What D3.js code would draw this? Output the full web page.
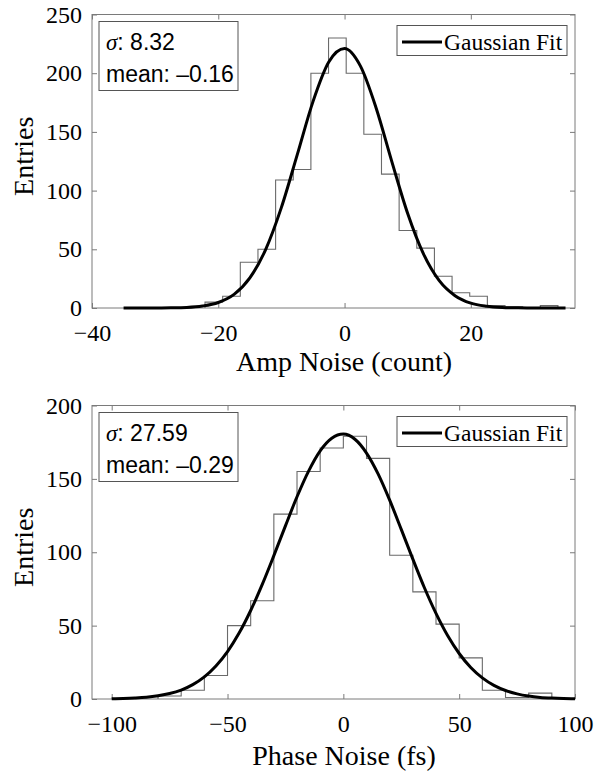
<!DOCTYPE html>
<html>
<head>
<meta charset="utf-8">
<script src="https://cdn.jsdelivr.net/npm/d3@7"></script>
<style>
  body { margin: 0; background: #fff; }
</style>
</head>
<body>
<div id="chart"></div>
<script>
// ---- Amp noise panel ----
const ampBinStart = -22.1;
const ampBinWidth = 2.795;
const ampCounts = [5, 10, 39, 50, 109, 118, 200, 230, 200, 148, 114, 66, 51, 27, 13, 10, 2, 1, 0, 2];
const ampFitX = [-35, -30, -27.5, -25, -22.5, -20, -17.5, -15, -12.5, -10, -7.5, -5, -2.5, 0,
  2.5, 5, 7.5, 10, 12.5, 15, 17.5, 20, 22.5, 25, 27.5, 30, 35];
const ampFitY = [0, 0.04, 0.15, 0.5, 1.7, 4.7, 11.6, 25.6, 49.8, 85.7, 130.4, 175.8, 209.5, 221,
  206.2, 170.4, 124.5, 80.5, 46.1, 23.3, 10.5, 4.1, 1.5, 0.45, 0.12, 0.03, 0];
const ampXDomain = [-40, 36.5];
const ampYDomain = [0, 250];
const ampXTicks = [-40, -20, 0, 20];
const ampYTicks = [0, 50, 100, 150, 200, 250];
const ampSigma = "8.32";
const ampMean = "–0.16";

// ---- Phase noise panel ----
const phaseBinStart = -80;
const phaseBinWidth = 10;
const phaseCounts = [2, 6, 16, 50, 67, 126, 155, 171, 179, 164, 98, 73, 51, 28, 6, 1, 4];
const phaseFitX = [-100, -95, -90, -85, -80, -75, -70, -65, -60, -55, -50, -45, -40, -35, -30, -25,
  -20, -15, -10, -5, 0, 5, 10, 15, 20, 25, 30, 35, 40, 45, 50, 55, 60, 65, 70, 75, 80, 85, 90, 95, 100];
const phaseFitY = [0.18, 0.35, 0.67, 1.2, 2.2, 3.7, 6.1, 9.8, 15.1, 22.5, 32.3, 44.9, 60.3, 78.1,
  97.7, 118.0, 137.8, 155.3, 169.1, 177.7, 180.5, 177.0, 167.6, 153.4, 135.5, 115.6, 95.3, 75.8,
  58.3, 43.2, 31.0, 21.5, 14.4, 9.3, 5.8, 3.5, 2.0, 1.1, 0.6, 0.3, 0.16];
const phaseXDomain = [-108.5, 100];
const phaseYDomain = [0, 200];
const phaseXTicks = [-100, -50, 0, 50, 100];
const phaseYTicks = [0, 50, 100, 150, 200];
const phaseSigma = "27.59";
const phaseMean = "–0.29";

const width = 598;
const height = 771;
const serif = "'Liberation Serif', 'Times New Roman', serif";
const sans = "'Liberation Sans', Arial, sans-serif";
const axisGray = "#7a7a7a";

const svg = d3.select("#chart")
  .append("svg")
  .attr("width", width)
  .attr("height", height);

const fmt = d => (d < 0 ? "\u2212" + Math.abs(d) : String(d));

function drawPanel(p) {
  const left = 92, right = 575;
  const x = d3.scaleLinear().domain(p.xDomain).range([left, right]);
  const y = d3.scaleLinear().domain(p.yDomain).range([p.bottom, p.top]);

  const g = svg.append("g");

  // inward ticks on all four sides
  g.append("g")
    .attr("transform", `translate(0,${p.bottom})`)
    .call(d3.axisBottom(x).tickValues(p.xTicks).tickSizeInner(-5).tickSizeOuter(0)
      .tickPadding(16).tickFormat(fmt));
  g.append("g")
    .attr("transform", `translate(${left},0)`)
    .call(d3.axisLeft(y).tickValues(p.yTicks).tickSizeInner(-5).tickSizeOuter(0)
      .tickPadding(10).tickFormat(fmt));
  g.append("g")
    .attr("transform", `translate(0,${p.top})`)
    .call(d3.axisTop(x).tickValues(p.xTicks).tickSizeInner(-5).tickSizeOuter(0).tickFormat(""));
  g.append("g")
    .attr("transform", `translate(${right},0)`)
    .call(d3.axisRight(y).tickValues(p.yTicks).tickSizeInner(-5).tickSizeOuter(0).tickFormat(""));

  g.selectAll(".domain").remove();
  g.selectAll(".tick line").attr("stroke", axisGray);
  g.selectAll(".tick text")
    .attr("fill", "#000")
    .style("font-family", serif)
    .style("font-size", "24px");

  // axes box
  g.append("rect")
    .attr("x", left)
    .attr("y", p.top)
    .attr("width", right - left)
    .attr("height", p.bottom - p.top)
    .attr("fill", "none")
    .attr("stroke", axisGray)
    .attr("stroke-width", 1);

  // histogram as stairs outline
  const pts = [[p.binStart, 0]];
  p.counts.forEach((c, i) => {
    const e0 = p.binStart + i * p.binWidth;
    pts.push([e0, c], [e0 + p.binWidth, c]);
  });
  pts.push([p.binStart + p.counts.length * p.binWidth, 0]);

  g.append("path")
    .datum(pts)
    .attr("fill", "none")
    .attr("stroke", "#6a6a6a")
    .attr("stroke-width", 1.1)
    .attr("d", d3.line().x(d => x(d[0])).y(d => y(d[1])));

  // gaussian fit
  const fit = p.fitX.map((v, i) => [v, p.fitY[i]]);
  g.append("path")
    .datum(fit)
    .attr("fill", "none")
    .attr("stroke", "#000")
    .attr("stroke-width", 3)
    .attr("stroke-linejoin", "round")
    .attr("d", d3.line().curve(d3.curveMonotoneX).x(d => x(d[0])).y(d => y(d[1])));

  // stats box
  const sb = g.append("g").attr("transform", `translate(99,${p.top + 7})`);
  sb.append("rect")
    .attr("width", 139)
    .attr("height", 69)
    .attr("fill", "#fff")
    .attr("stroke", "#555")
    .attr("stroke-width", 1);
  const t1 = sb.append("text")
    .attr("x", 7)
    .attr("y", 28)
    .style("font-family", sans)
    .style("font-size", "23px");
  t1.append("tspan").style("font-family", serif).style("font-style", "italic").text("σ");
  t1.append("tspan").text(": " + p.sigma);
  sb.append("text")
    .attr("x", 7)
    .attr("y", 60)
    .style("font-family", sans)
    .style("font-size", "23px")
    .text("mean: " + p.mean);

  // legend
  const lg = g.append("g").attr("transform", `translate(397,${p.top + 11})`);
  lg.append("rect")
    .attr("width", 170)
    .attr("height", 30)
    .attr("fill", "#fff")
    .attr("stroke", "#555")
    .attr("stroke-width", 1);
  lg.append("line")
    .attr("x1", 5)
    .attr("x2", 45)
    .attr("y1", 16.5)
    .attr("y2", 16.5)
    .attr("stroke", "#000")
    .attr("stroke-width", 3);
  lg.append("text")
    .attr("x", 47)
    .attr("y", 24.5)
    .style("font-family", serif)
    .style("font-size", "23.5px")
    .text("Gaussian Fit");

  // axis labels
  svg.append("text")
    .attr("x", 344)
    .attr("y", p.xLabelY)
    .attr("text-anchor", "middle")
    .style("font-family", serif)
    .style("font-size", "28px")
    .text(p.xLabel);

  svg.append("text")
    .attr("transform", `translate(33,${(p.top + p.bottom) / 2 - 5}) rotate(-90)`)
    .attr("text-anchor", "middle")
    .style("font-family", serif)
    .style("font-size", "28px")
    .text("Entries");
}

drawPanel({
  top: 14.5, bottom: 308, xLabelY: 371,
  xDomain: ampXDomain, yDomain: ampYDomain, xTicks: ampXTicks, yTicks: ampYTicks,
  binStart: ampBinStart, binWidth: ampBinWidth, counts: ampCounts,
  fitX: ampFitX, fitY: ampFitY, sigma: ampSigma, mean: ampMean,
  xLabel: "Amp Noise (count)"
});

drawPanel({
  top: 405.5, bottom: 699, xLabelY: 765,
  xDomain: phaseXDomain, yDomain: phaseYDomain, xTicks: phaseXTicks, yTicks: phaseYTicks,
  binStart: phaseBinStart, binWidth: phaseBinWidth, counts: phaseCounts,
  fitX: phaseFitX, fitY: phaseFitY, sigma: phaseSigma, mean: phaseMean,
  xLabel: "Phase Noise (fs)"
});
</script>
</body>
</html>
